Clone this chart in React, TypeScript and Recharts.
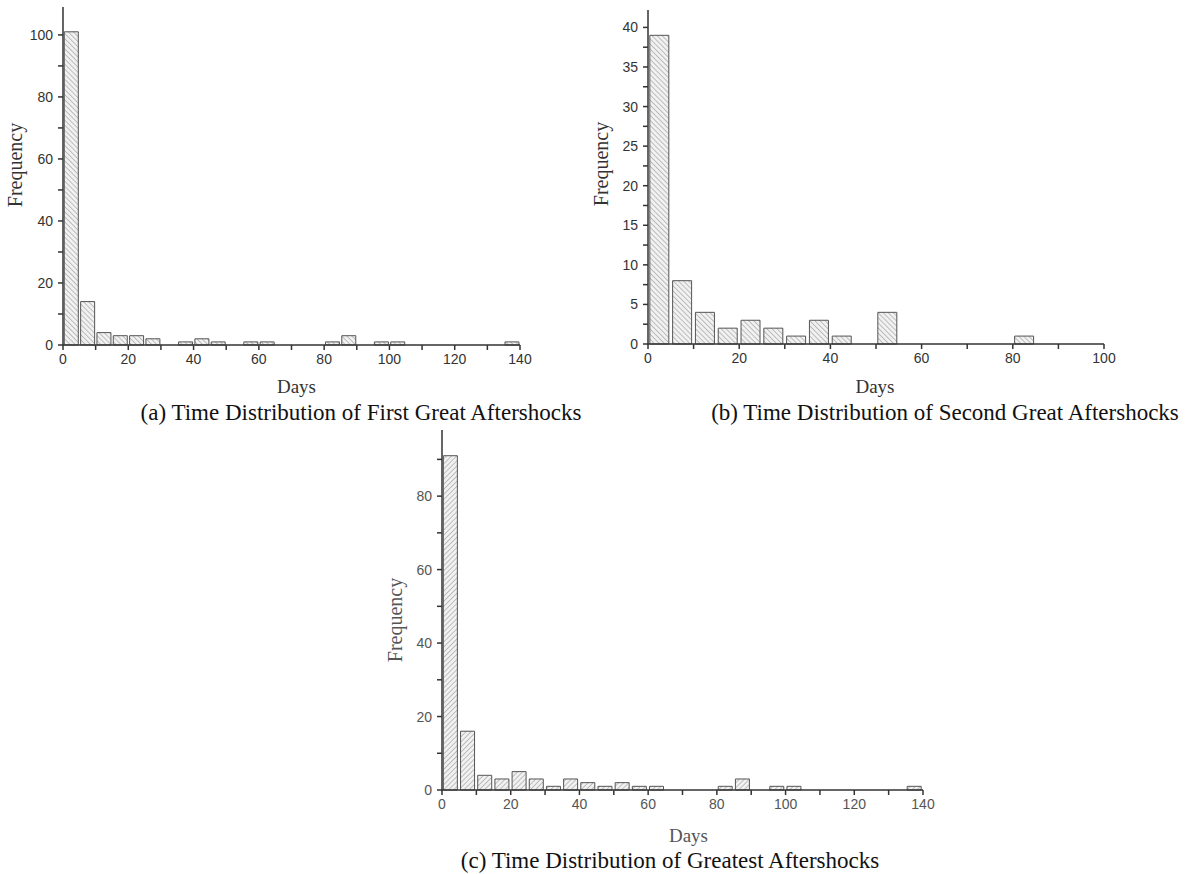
import React from "react";
import { BarChart, Bar, XAxis, YAxis, Label } from "recharts";

// bin starts (5-day bins) and counts
const binsA = [0, 5, 10, 15, 20, 25, 30, 35, 40, 45, 50, 55, 60, 65, 70, 75, 80, 85, 90, 95, 100, 105, 110, 115, 120, 125, 130, 135];
const countsA = [101, 14, 4, 3, 3, 2, 0, 1, 2, 1, 0, 1, 1, 0, 0, 0, 1, 3, 0, 1, 1, 0, 0, 0, 0, 0, 0, 1];

const binsB = [0, 5, 10, 15, 20, 25, 30, 35, 40, 45, 50, 55, 60, 65, 70, 75, 80, 85, 90, 95];
const countsB = [39, 8, 4, 2, 3, 2, 1, 3, 1, 0, 4, 0, 0, 0, 0, 0, 1, 0, 0, 0];

const binsC = [0, 5, 10, 15, 20, 25, 30, 35, 40, 45, 50, 55, 60, 65, 70, 75, 80, 85, 90, 95, 100, 105, 110, 115, 120, 125, 130, 135];
const countsC = [91, 16, 4, 3, 5, 3, 1, 3, 2, 1, 2, 1, 1, 0, 0, 0, 1, 3, 0, 1, 1, 0, 0, 0, 0, 0, 0, 1];

// axis ticks (labelled + minor)
const xTicks140 = [0, 10, 20, 30, 40, 50, 60, 70, 80, 90, 100, 110, 120, 130, 140];
const xTicks100 = [0, 10, 20, 30, 40, 50, 60, 70, 80, 90, 100];
const yTicksA = [0, 10, 20, 30, 40, 50, 60, 70, 80, 90, 100];
const yTicksB = [0, 2.5, 5, 7.5, 10, 12.5, 15, 17.5, 20, 22.5, 25, 27.5, 30, 32.5, 35, 37.5, 40];
const yTicksC = [0, 10, 20, 30, 40, 50, 60, 70, 80, 90];

const captions = [
  "(a) Time Distribution of First Great Aftershocks",
  "(b) Time Distribution of Second Great Aftershocks",
  "(c) Time Distribution of Greatest Aftershocks",
];

const SANS = '"Liberation Sans", Arial, sans-serif';
const SERIF = '"Liberation Serif", "Times New Roman", serif';

const toRows = (bins: number[], counts: number[]) =>
  bins.map((b, i) => ({ day: b + 2.5, count: counts[i] }));

interface PanelProps {
  id: string;
  bins: number[];
  counts: number[];
  left: number;
  top: number;
  width: number;
  height: number;
  margin: { top: number; right: number; bottom: number; left: number };
  yWidth: number;
  xHeight: number;
  xMax: number;
  xTicks: number[];
  yMax: number;
  yTicks: number[];
  yStep: number;
  hatch: number;
  ink: string;
  freq: { dx: number; dy: number };
  days: { dx: number; dy: number };
}

function Panel(p: PanelProps) {
  const rows = toRows(p.bins, p.counts);
  const tickStyle = { fontSize: 14, fill: p.ink, fontFamily: SANS };
  const line = { stroke: "#333", strokeWidth: 1.5 };
  return (
    <div style={{ position: "absolute", left: p.left, top: p.top }}>
      <BarChart width={p.width} height={p.height} data={rows} margin={p.margin} barCategoryGap="8%">
        <defs>
          <pattern
            id={p.id}
            patternUnits="userSpaceOnUse"
            width="3.6"
            height="3.6"
            patternTransform={`rotate(${p.hatch})`}
          >
            <rect width="3.6" height="3.6" fill="#f1f1f1" />
            <line x1="0" y1="0" x2="0" y2="3.6" stroke="#8a8a8a" strokeWidth="1" />
          </pattern>
        </defs>
        <XAxis
          dataKey="day"
          type="number"
          domain={[0, p.xMax]}
          ticks={p.xTicks}
          interval={0}
          height={p.xHeight}
          tickSize={5}
          tickMargin={4}
          axisLine={line}
          tickLine={line}
          tick={tickStyle}
          tickFormatter={(v: number) => (v % 20 === 0 ? String(v) : "")}
        >
          <Label
            content={(lp: any) => {
              const vb = lp.viewBox || {};
              return (
                <text
                  x={vb.x + vb.width / 2 + p.days.dx}
                  y={vb.y + p.days.dy}
                  textAnchor="middle"
                  dominantBaseline="central"
                  fontFamily={SERIF}
                  fontSize={19}
                  fill={p.ink}
                >
                  Days
                </text>
              );
            }}
          />
        </XAxis>
        <YAxis
          type="number"
          domain={[0, p.yMax]}
          ticks={p.yTicks}
          interval={0}
          width={p.yWidth}
          tickSize={5}
          tickMargin={5}
          axisLine={line}
          tickLine={line}
          tick={tickStyle}
          tickFormatter={(v: number) => (v % p.yStep === 0 ? String(v) : "")}
        >
          <Label
            content={(lp: any) => {
              const vb = lp.viewBox || {};
              const cx = vb.x + p.freq.dx;
              const cy = vb.y + vb.height / 2 + p.freq.dy;
              return (
                <text
                  x={cx}
                  y={cy}
                  transform={`rotate(-90 ${cx} ${cy})`}
                  textAnchor="middle"
                  dominantBaseline="central"
                  fontFamily={SERIF}
                  fontSize={20}
                  fill={p.ink}
                >
                  Frequency
                </text>
              );
            }}
          />
        </YAxis>
        <Bar
          dataKey="count"
          fill={`url(#${p.id})`}
          stroke="#555"
          strokeWidth={1}
          isAnimationActive={false}
        />
      </BarChart>
    </div>
  );
}

const captionStyle: React.CSSProperties = {
  position: "absolute",
  transform: "translateX(-50%)",
  whiteSpace: "nowrap",
  fontFamily: SERIF,
  fontSize: 23,
  lineHeight: "24px",
  color: "#111",
};

export default function App() {
  return (
    <div style={{ position: "absolute", left: 0, top: 0, width: 1195, height: 874, background: "#fff" }}>
      <Panel
        id="hatchA"
        bins={binsA}
        counts={countsA}
        left={0}
        top={0}
        width={560}
        height={400}
        margin={{ top: 7, right: 40, bottom: 5, left: 0 }}
        yWidth={63}
        xHeight={50}
        xMax={140}
        xTicks={xTicks140}
        yMax={109}
        yTicks={yTicksA}
        yStep={20}
        hatch={-45}
        ink="#333"
        freq={{ dx: 15, dy: -11 }}
        days={{ dx: 5, dy: 41 }}
      />
      <Panel
        id="hatchB"
        bins={binsB}
        counts={countsB}
        left={580}
        top={0}
        width={600}
        height={400}
        margin={{ top: 10, right: 76, bottom: 5, left: 0 }}
        yWidth={68}
        xHeight={51}
        xMax={100}
        xTicks={xTicks100}
        yMax={42.2}
        yTicks={yTicksB}
        yStep={5}
        hatch={-45}
        ink="#333"
        freq={{ dx: 21, dy: -13 }}
        days={{ dx: -1, dy: 42 }}
      />
      <Panel
        id="hatchC"
        bins={binsC}
        counts={countsC}
        left={380}
        top={420}
        width={600}
        height={440}
        margin={{ top: 10, right: 57, bottom: 5, left: 0 }}
        yWidth={62}
        xHeight={65}
        xMax={140}
        xTicks={xTicks140}
        yMax={98}
        yTicks={yTicksC}
        yStep={20}
        hatch={45}
        ink="#555"
        freq={{ dx: 15, dy: 10 }}
        days={{ dx: 6, dy: 45 }}
      />
      <div style={{ ...captionStyle, left: 361, top: 401 }}>{captions[0]}</div>
      <div style={{ ...captionStyle, left: 945, top: 401 }}>{captions[1]}</div>
      <div style={{ ...captionStyle, left: 670, top: 849 }}>{captions[2]}</div>
    </div>
  );
}
